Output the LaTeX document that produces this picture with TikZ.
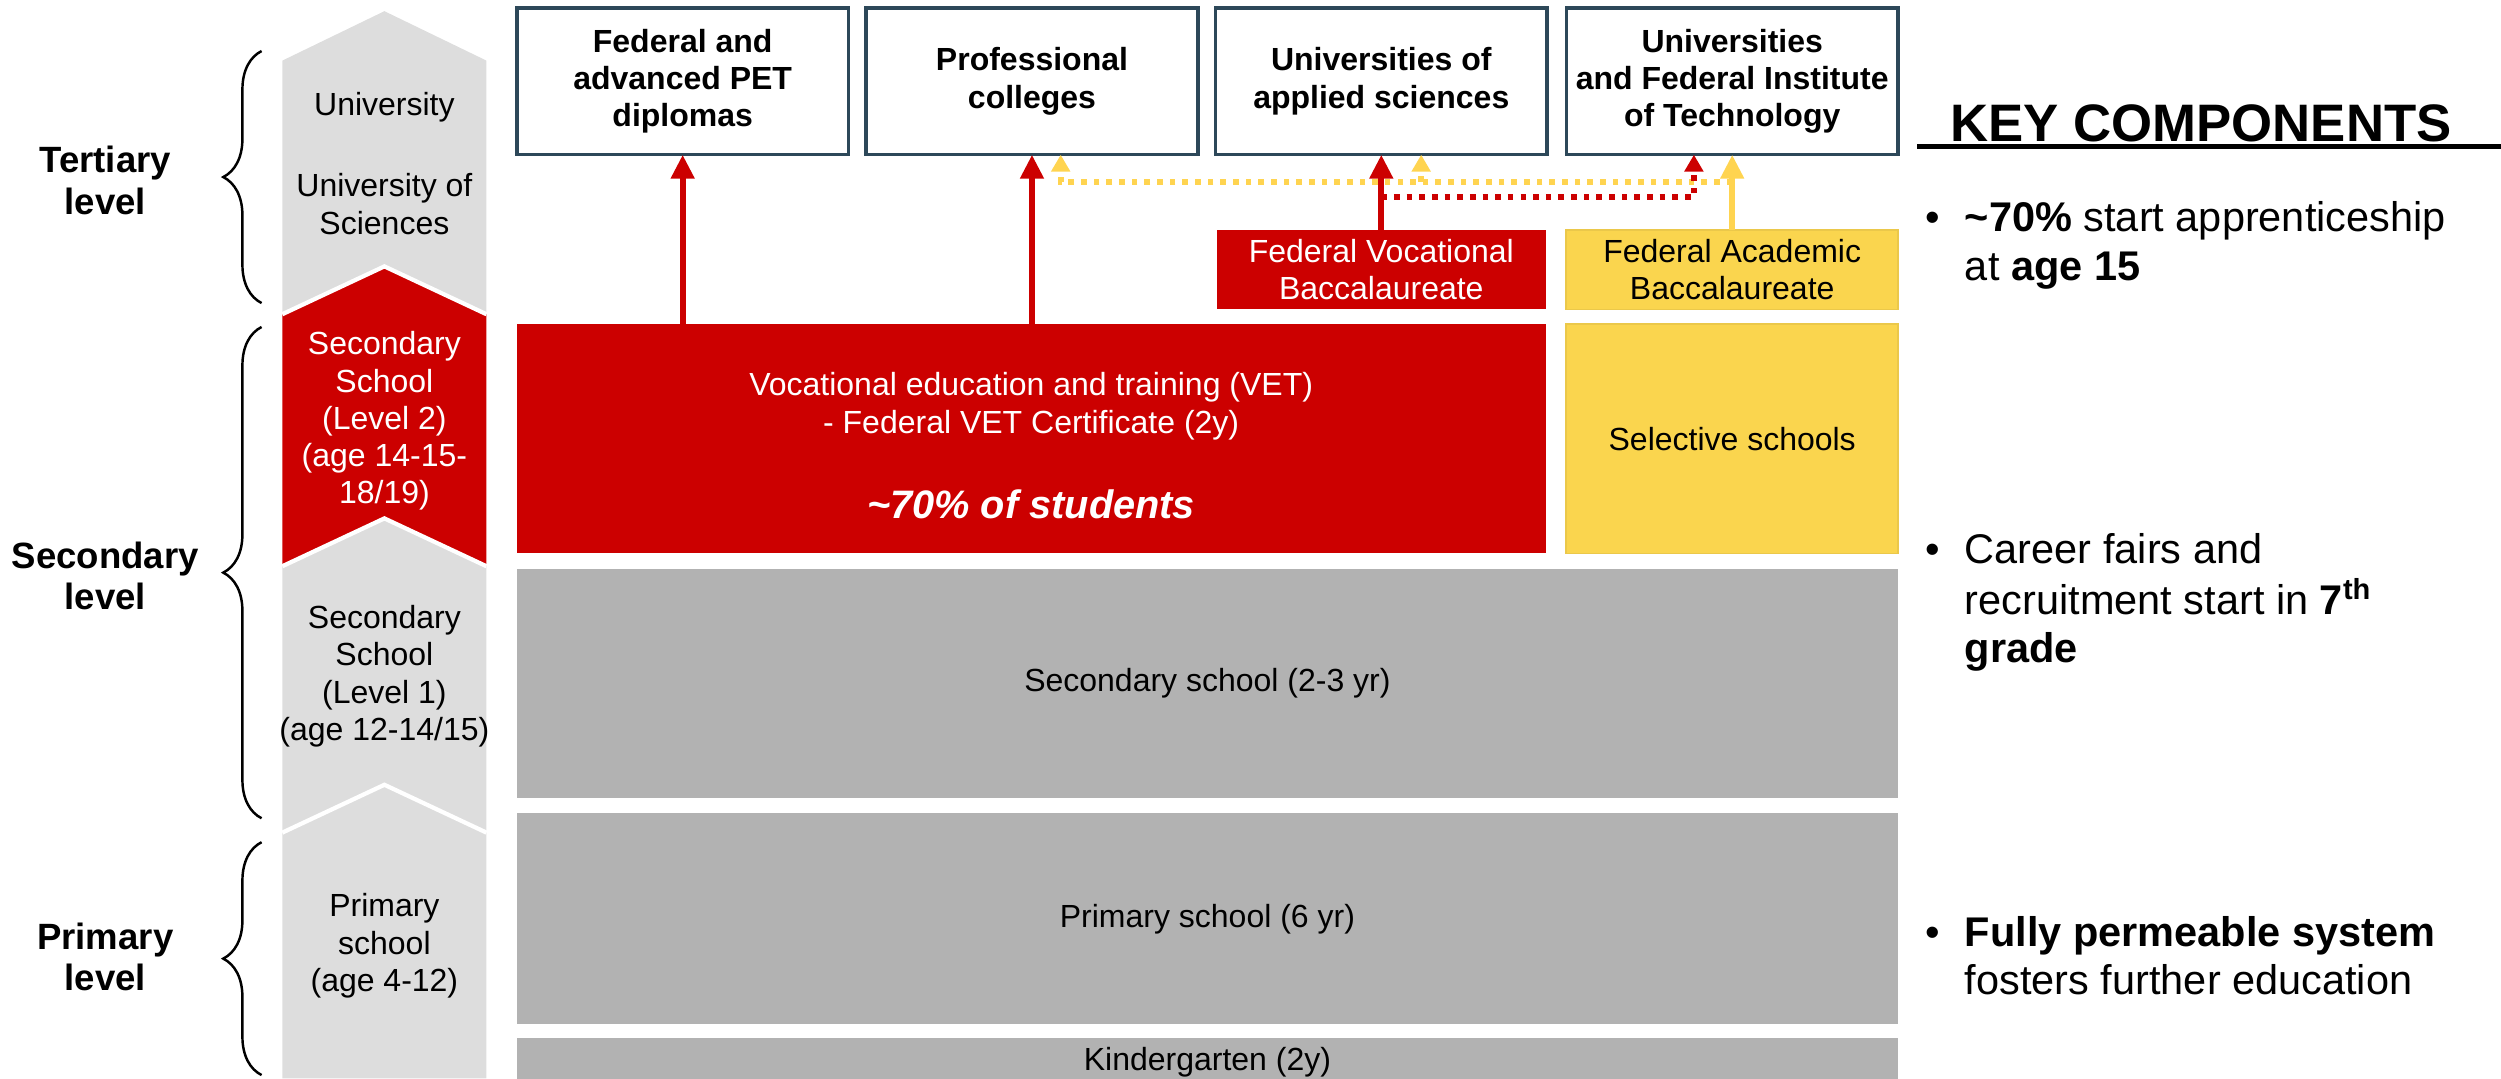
\documentclass[tikz,border=0pt]{standalone}
\usepackage{fontspec}
\setmainfont{Liberation Sans}
\usetikzlibrary{arrows.meta,calc,fit,decorations.pathreplacing}
\definecolor{vred}{HTML}{CC0000}
\definecolor{chev}{HTML}{DDDDDD}
\definecolor{boxgrey}{HTML}{B2B2B2}
\definecolor{ayel}{HTML}{FAD54E}
\definecolor{ayeledge}{HTML}{EBC84A}
\definecolor{arrowyel}{HTML}{FFD450}
\definecolor{slate}{HTML}{2D4859}
\newcommand\fsz[2]{\fontsize{#1}{#2}\selectfont}
\begin{document}
\begin{tikzpicture}[x=0.01595cm, y=-0.01595cm,
  every node/.style={inner sep=0pt, outer sep=0pt},
  topbox/.style={draw=slate, line width=1pt, fill=white},
  redbox/.style={fill=vred},
  yelbox/.style={fill=ayel, draw=ayeledge, line width=0.5pt},
  greybox/.style={fill=boxgrey},
  toptext/.style={align=center, font=\fsz{9.1}{10.6}\bfseries},
  boxtext/.style={align=center, font=\fsz{9.1}{10.6}},
  chevtext/.style={align=center, font=\fsz{9.1}{10.6}},
  leveltext/.style={align=center, font=\fsz{10.4}{11.8}\bfseries},
  levelbrace/.style={draw, line width=0.7pt, decorate, decoration={brace, amplitude=10.9pt}},
  solidarrow/.style={line width=1.8pt, -{Triangle[width=6.4pt,length=6.8pt]}},
  dotarrow/.style={line width=1.6pt, dash pattern=on 1.6pt off 2pt, -{Triangle[width=5.2pt,length=4.8pt]}},
  bullettext/.style={anchor=north west, font=\fsz{11.8}{13.8}},
  sepline/.style={white, line width=1.2pt},
]
\useasboundingbox (0,0) rectangle (1568,676);

% chevron column
\fill[chev] (177,38) -- (241,7) -- (305,38) -- (305,197) -- (241,167) -- (177,197) -- cycle;
\fill[vred] (177,197) -- (241,167) -- (305,197) -- (305,355) -- (241,325) -- (177,355) -- cycle;
\fill[chev] (177,355) -- (241,325) -- (305,355) -- (305,522) -- (241,492) -- (177,522) -- cycle;
\fill[chev] (177,522) -- (241,492) -- (305,522) -- (305,676) -- (177,676) -- cycle;
\draw[sepline] (177,197) -- (241,167) -- (305,197);
\draw[sepline] (177,355) -- (241,325) -- (305,355);
\draw[sepline] (177,522) -- (241,492) -- (305,522);

\node[chevtext] (cu) at (241,67) {University};
\node[chevtext] (cus) at (241,128) {University of\\Sciences};
\node[chevtext, text=white] (cs2) at (241,264) {Secondary\\School\\(Level 2)\\(age 14-15-\\18/19)};
\node[chevtext] (cs1) at (241,424) {Secondary\\School\\(Level 1)\\(age 12-14/15)};
\node[chevtext] (cp) at (241,593) {Primary\\school\\(age 4-12)};

% braces and level labels
\draw[levelbrace] (164,190) -- (164,32);
\draw[levelbrace] (164,513) -- (164,205);
\draw[levelbrace] (164,674) -- (164,528);
\node[leveltext] (lt) at (66,113) {Tertiary\\level};
\node[leveltext] (ls) at (66,361) {Secondary\\level};
\node[leveltext] (lp) at (66,600) {Primary\\level};

% tertiary boxes
\node[topbox, fit={(324,5) (532,97)}] (b1) {};
\node[topbox, fit={(543,5) (751,97)}] (b2) {};
\node[topbox, fit={(762,5) (970,97)}] (b3) {};
\node[topbox, fit={(982,5) (1190,97)}] (b4) {};
\node[toptext] (b1t) at (b1.center) {Federal and\\advanced PET\\diplomas};
\node[toptext] (b2t) at (b2.center) {Professional\\colleges};
\node[toptext] (b3t) at (b3.center) {Universities of\\applied sciences};
\node[toptext] (b4t) at (b4.center) {Universities\\and Federal Institute\\of Technology};

\node[redbox, fit={(763,144) (969,194)}] (fvb) {};
\node[yelbox, fit={(982,144) (1190,194)}] (fab) {};
\node[boxtext, text=white] (fvbt) at (fvb.center) {Federal Vocational\\Baccalaureate};
\node[boxtext] (fabt) at (fab.center) {Federal Academic\\Baccalaureate};

% secondary / primary blocks
\node[redbox, fit={(324,203) (969,347)}] (vet) {};
\node[align=center, text=white, font=\fsz{9.1}{10.9}] (vett) at (646.5,254.5) {Vocational education and training (VET)\\- Federal VET Certificate (2y)};
\node[text=white, font=\fsz{11.3}{13}\bfseries\itshape] (vetp) at (646.5,316) {\textasciitilde70\% of students};
\node[yelbox, fit={(982,203) (1190,347)}] (sel) {};
\node[boxtext] (selt) at (sel.center) {Selective schools};
\node[greybox, fit={(324,357) (1190,500)}] (sec) {};
\node[boxtext] (sect) at (sec.center) {Secondary school (2-3 yr)};
\node[greybox, fit={(324,510) (1190,642)}] (pri) {};
\node[boxtext] (prit) at (pri.center) {Primary school (6 yr)};
\node[greybox, fit={(324,651) (1190,681)}] (kin) {};
\node[boxtext] (kint) at (kin.center) {Kindergarten (2y)};

% dotted permeability arrows
\coordinate (yj) at ($(b4.south)+(0,17)$);
\coordinate (y2t) at ($(b2.south)+(18,0)$);
\coordinate (y3t) at ($(b3.south)+(25,0)$);
\coordinate (rj) at ($(b3.south)+(0,26.5)$);
\coordinate (r4t) at ($(b4.south)+(-24,0)$);
\draw[dotarrow, arrowyel] (yj) -- (yj -| y2t) -- (y2t);
\draw[dotarrow, arrowyel] (yj -| y3t) -- (y3t);
\draw[dotarrow, vred] (rj) -- (rj -| r4t) -- (r4t);

% solid arrows
\draw[solidarrow, vred] (b1.south |- vet.north) -- (b1.south);
\draw[solidarrow, vred] (b2.south |- vet.north) -- (b2.south);
\draw[solidarrow, vred] (fvb.north) -- (b3.south);
\draw[solidarrow, arrowyel] (fab.north) -- (b4.south);

% key components
\node[fit={(1202,60) (1568,92)}] (kc) {};
\node[font=\fsz{15}{18}\bfseries, anchor=base] (kct) at ($(kc.south)+(-5,-3.5)$) {KEY COMPONENTS};
\draw[line width=1.3pt] (kc.south west) -- (kc.south east);

\node[bullettext] (k1) at (1207,124) {\begin{tabular}{@{}p{11.3pt}@{}l@{}}\textbullet & \textbf{\textasciitilde70\%} start apprenticeship\\ & at \textbf{age 15}\end{tabular}};
\node[bullettext] (k2) at (1207,332) {\begin{tabular}{@{}p{11.3pt}@{}l@{}}\textbullet & Career fairs and\\ & recruitment start in \textbf{7\textsuperscript{th}}\\ & \textbf{grade}\end{tabular}};
\node[bullettext] (k3) at (1207,572) {\begin{tabular}{@{}p{11.3pt}@{}l@{}}\textbullet & \textbf{Fully permeable system}\\ & fosters further education\end{tabular}};
\end{tikzpicture}
\end{document}
